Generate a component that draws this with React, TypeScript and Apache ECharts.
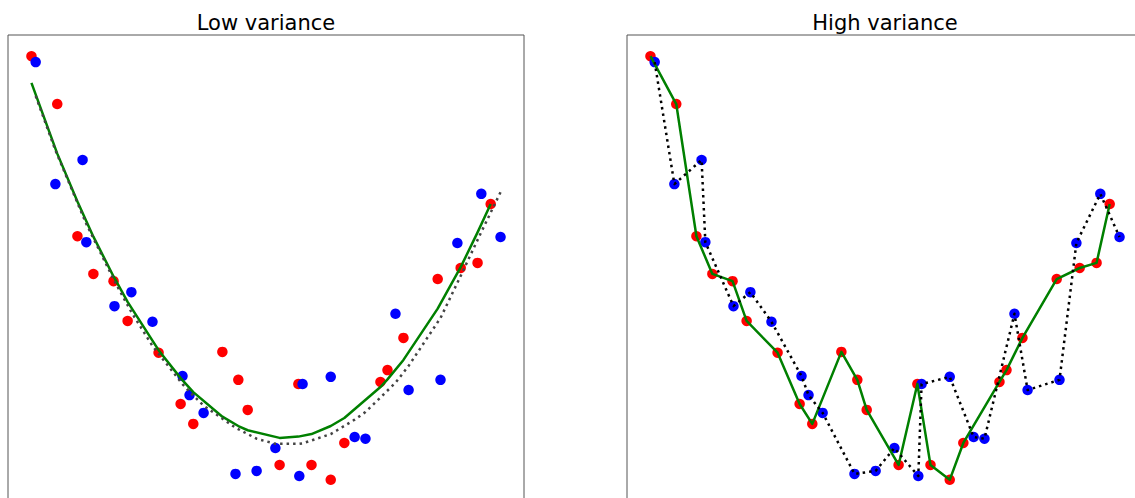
import React, { useEffect, useRef } from "react";
import * as echarts from "echarts";

const redX = [0.000, 0.055, 0.098, 0.132, 0.175, 0.205, 0.271, 0.318, 0.345, 0.407, 0.441, 0.461, 0.529, 0.569, 0.597, 0.638, 0.667, 0.744, 0.759, 0.793, 0.866, 0.915, 0.951, 0.979];
const redY = [1.000, 0.887, 0.575, 0.486, 0.469, 0.375, 0.300, 0.179, 0.132, 0.302, 0.236, 0.165, 0.035, 0.226, 0.035, 0.000, 0.087, 0.231, 0.259, 0.335, 0.474, 0.500, 0.512, 0.651];
const blueX = [0.009, 0.051, 0.109, 0.117, 0.177, 0.213, 0.258, 0.322, 0.337, 0.367, 0.435, 0.480, 0.520, 0.571, 0.578, 0.638, 0.689, 0.712, 0.776, 0.804, 0.872, 0.908, 0.959, 1.000];
const blueY = [0.986, 0.698, 0.755, 0.561, 0.410, 0.443, 0.373, 0.245, 0.200, 0.158, 0.014, 0.021, 0.075, 0.009, 0.226, 0.243, 0.101, 0.097, 0.392, 0.212, 0.236, 0.559, 0.675, 0.573];
// Low-variance fitted curves, at the red and blue x positions
const lowFitRed = [0.937, 0.770, 0.657, 0.574, 0.480, 0.420, 0.306, 0.240, 0.207, 0.149, 0.127, 0.117, 0.099, 0.102, 0.108, 0.127, 0.146, 0.219, 0.237, 0.283, 0.404, 0.502, 0.584, 0.651];
const lowFitBlue = [0.906, 0.778, 0.625, 0.604, 0.469, 0.396, 0.316, 0.226, 0.208, 0.175, 0.123, 0.097, 0.085, 0.085, 0.086, 0.108, 0.142, 0.160, 0.229, 0.269, 0.382, 0.465, 0.585, 0.679];

const titles = ["Low variance", "High variance"];

const pairs = (xs: number[], ys: number[]) => xs.map((x, i) => [x, ys[i]]);

export default function App() {
  const ref = useRef<HTMLDivElement>(null);
  useEffect(() => {
    if (!ref.current) return;
    const chart = echarts.init(ref.current, undefined, { renderer: "svg" });
    const font = "DejaVu Sans";
    const grids = [
      { left: 8, top: 35, width: 516, height: 466 },
      { left: 627, top: 35, width: 516, height: 466 },
    ].map((g) => ({ ...g, show: true, borderColor: "#555", borderWidth: 1, backgroundColor: "#fff", containLabel: false }));
    const hidden = { show: false };
    const xAxes = [0, 1].map((i) => ({
      type: "value", gridIndex: i, min: -0.05, max: 1.05,
      axisLine: hidden, axisTick: hidden, axisLabel: hidden, splitLine: hidden,
    }));
    const yAxes = [0, 1].map((i) => ({
      type: "value", gridIndex: i, min: -0.05, max: 1.05,
      axisLine: hidden, axisTick: hidden, axisLabel: hidden, splitLine: hidden,
    }));
    const scatter = (i: number, xs: number[], ys: number[], color: string) => ({
      type: "scatter", xAxisIndex: i, yAxisIndex: i, data: pairs(xs, ys),
      symbol: "circle", symbolSize: 10.5, itemStyle: { color, opacity: 1 }, z: 2, silent: true,
    });
    const line = (i: number, xs: number[], ys: number[], color: string, dotted: boolean) => ({
      type: "line", xAxisIndex: i, yAxisIndex: i, data: pairs(xs, ys),
      showSymbol: false, symbol: "none", z: 3, silent: true,
      lineStyle: { color, width: 2.5, type: dotted ? [2.5, 4] : "solid", cap: "butt", join: "round" },
    });
    chart.setOption({
      animation: false,
      grid: grids,
      xAxis: xAxes,
      yAxis: yAxes,
      series: [
        scatter(0, redX, redY, "#ff0000"),
        scatter(0, blueX, blueY, "#0000ff"),
        line(0, redX, lowFitRed, "#008000", false),
        line(0, blueX, lowFitBlue, "#444444", true),
        scatter(1, redX, redY, "#ff0000"),
        scatter(1, blueX, blueY, "#0000ff"),
        line(1, redX, redY, "#008000", false),
        line(1, blueX, blueY, "#000000", true),
      ],
      graphic: titles.map((t, i) => ({
        type: "text",
        x: i === 0 ? 266 : 885,
        y: 23,
        style: { text: t, fontFamily: font, fontSize: 21, fill: "#000", textAlign: "center", textVerticalAlign: "middle" },
      })),
    });
    return () => chart.dispose();
  }, []);
  return (
    <div
      ref={ref}
      style={{ position: "fixed", left: 0, top: 0, width: 1150, height: 510, background: "#fff" }}
    />
  );
}
